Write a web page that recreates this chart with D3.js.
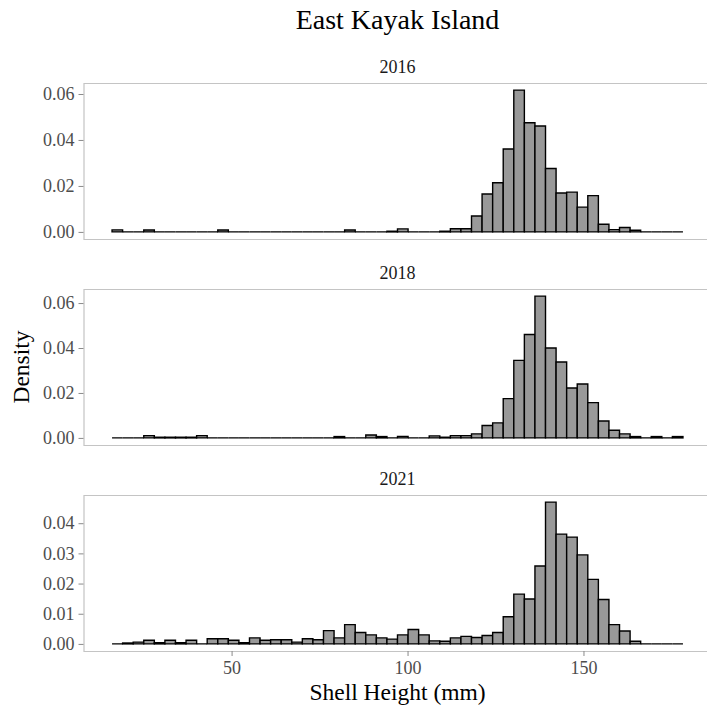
<!DOCTYPE html>
<html>
<head>
<meta charset="utf-8">
<script src="https://cdn.jsdelivr.net/npm/d3@7"></script>
<style>
  html, body { margin: 0; padding: 0; background: #ffffff; }
  svg { display: block; }
  text { font-family: "Liberation Serif", "Times New Roman", serif; }
</style>
</head>
<body>
<svg id="chart" width="707" height="713"></svg>
<script>
// Shell height histograms, one facet per survey year (density per 3 mm bin)
const title = "East Kayak Island";
const years = ["2016", "2018", "2021"];
const binStart = 16.03;     // left edge of first bin (mm)
const binWidth = 3.0044;    // bin width (mm)

const density2016 = [
  0.0009, 0, 0, 0.0008, 0, 0, 0, 0, 0, 0,
  0.0008, 0, 0, 0, 0, 0, 0, 0, 0, 0,
  0, 0, 0.0008, 0, 0, 0, 0.0003, 0.0013, 0, 0,
  0, 0.0003, 0.0014, 0.0014, 0.0069, 0.0165, 0.0214, 0.0361, 0.0617, 0.0475,
  0.0461, 0.0276, 0.0169, 0.0173, 0.0108, 0.0158, 0.0033, 0.0010, 0.0019, 0.0007,
  0, 0, 0, 0
];
const density2018 = [
  0, 0, 0, 0.0010, 0.0003, 0.0003, 0.0003, 0.0003, 0.0010, 0,
  0, 0, 0, 0, 0, 0, 0, 0, 0, 0,
  0, 0.0006, 0, 0, 0.0013, 0.0006, 0, 0.0007, 0, 0,
  0.0009, 0.0003, 0.0010, 0.0010, 0.0018, 0.0055, 0.0067, 0.0175, 0.0345, 0.0460,
  0.0631, 0.0400, 0.0338, 0.0222, 0.0240, 0.0157, 0.0075, 0.0034, 0.0018, 0.0006,
  0, 0.0006, 0, 0.0006
];
const density2021 = [
  0, 0.0003, 0.0006, 0.0012, 0.0004, 0.0012, 0.0004, 0.0012, 0, 0.0017,
  0.0017, 0.0012, 0.0004, 0.0020, 0.0012, 0.0014, 0.0014, 0.0006, 0.0017, 0.0014,
  0.0044, 0.0020, 0.0064, 0.0038, 0.0030, 0.0020, 0.0016, 0.0030, 0.0048, 0.0030,
  0.0010, 0.0009, 0.0020, 0.0025, 0.0021, 0.0028, 0.0038, 0.0090, 0.0165, 0.0149,
  0.0258, 0.0470, 0.0364, 0.0354, 0.0295, 0.0214, 0.0147, 0.0064, 0.0043, 0.0009,
  0, 0, 0, 0
];
const densities = [density2016, density2018, density2021];

const yTicks = [
  [0, 0.02, 0.04, 0.06],
  [0, 0.02, 0.04, 0.06],
  [0, 0.01, 0.02, 0.03, 0.04]
];
const xTicks = [50, 100, 150];
const xLabel = "Shell Height (mm)";
const yLabel = "Density";

// ---- layout ----
const svg = d3.select("#chart");
const W = 707;
const panelLeft = 83.5, panelRight = 711.5;
const panelTop0 = 83, panelH = 156, panelGap = 50;
const borderColor = "#c4c4c4";
const tickColor = "#8a8a8a";
const labelColor = "#4d4d4d";

const nBins = density2016.length;
const binEdges = d3.range(nBins + 1).map(i => binStart + i * binWidth);
const xLo = binEdges[0], xHi = binEdges[nBins];
const xPad = (xHi - xLo) * 0.05;
const x = d3.scaleLinear().domain([xLo - xPad, xHi + xPad]).range([panelLeft, panelRight]);

const centerX = (panelLeft + panelRight) / 2;

// title
svg.append("text")
  .attr("x", centerX).attr("y", 29)
  .attr("text-anchor", "middle")
  .attr("font-size", 28)
  .attr("fill", "#000")
  .text(title);

years.forEach((yr, p) => {
  const top = panelTop0 + p * (panelH + panelGap);
  const bottom = top + panelH;
  const vals = densities[p];
  const maxV = d3.max(vals);
  const y = d3.scaleLinear().domain([-0.05 * maxV, 1.05 * maxV]).range([bottom, top]);

  const g = svg.append("g");

  // strip label
  g.append("text")
    .attr("x", centerX).attr("y", top - 10)
    .attr("text-anchor", "middle")
    .attr("font-size", 18)
    .attr("fill", "#1a1a1a")
    .text(yr);

  // panel border: top, left, bottom
  g.append("path")
    .attr("d", `M${W + 10},${top + 0.5}H${panelLeft + 0.5}V${bottom + 0.5}H${W + 10}`)
    .attr("fill", "none")
    .attr("stroke", borderColor)
    .attr("stroke-width", 1.2);

  // bars
  g.append("g").selectAll("path")
    .data(vals)
    .join("path")
    .attr("d", (v, i) => {
      const x0 = x(binEdges[i]), x1 = x(binEdges[i + 1]);
      const y0 = y(0), y1 = y(v);
      return `M${x0},${y0}V${y1}H${x1}V${y0}Z`;
    })
    .attr("fill", "#999999")
    .attr("stroke", "#000")
    .attr("stroke-width", 1.4)
    .attr("stroke-linejoin", "miter");

  // y axis
  const yAxis = d3.axisLeft(y)
    .tickValues(yTicks[p])
    .tickFormat(d3.format(".2f"))
    .tickSize(5)
    .tickPadding(4);
  const ya = g.append("g")
    .attr("transform", `translate(${panelLeft},0)`)
    .call(yAxis);
  ya.select(".domain").remove();
  ya.selectAll(".tick line").attr("stroke", tickColor).attr("stroke-width", 1);
  ya.selectAll(".tick text")
    .attr("font-family", "Liberation Serif, Times New Roman, serif")
    .attr("font-size", 18)
    .attr("fill", labelColor);

  // x axis on bottom panel only
  if (p === years.length - 1) {
    const xAxis = d3.axisBottom(x)
      .tickValues(xTicks)
      .tickSize(5)
      .tickPadding(5);
    const xa = g.append("g")
      .attr("transform", `translate(0,${bottom})`)
      .call(xAxis);
    xa.select(".domain").remove();
    xa.selectAll(".tick line").attr("stroke", tickColor).attr("stroke-width", 1);
    xa.selectAll(".tick text")
      .attr("font-family", "Liberation Serif, Times New Roman, serif")
      .attr("font-size", 18)
      .attr("fill", labelColor);
  }
});

// axis titles
svg.append("text")
  .attr("x", centerX).attr("y", 700)
  .attr("text-anchor", "middle")
  .attr("font-size", 23.5)
  .attr("fill", "#000")
  .text(xLabel);

const midY = (panelTop0 + panelTop0 + 3 * panelH + 2 * panelGap) / 2;
svg.append("text")
  .attr("transform", `translate(29,${midY}) rotate(-90)`)
  .attr("text-anchor", "middle")
  .attr("font-size", 23.5)
  .attr("fill", "#000")
  .text(yLabel);
</script>
</body>
</html>
